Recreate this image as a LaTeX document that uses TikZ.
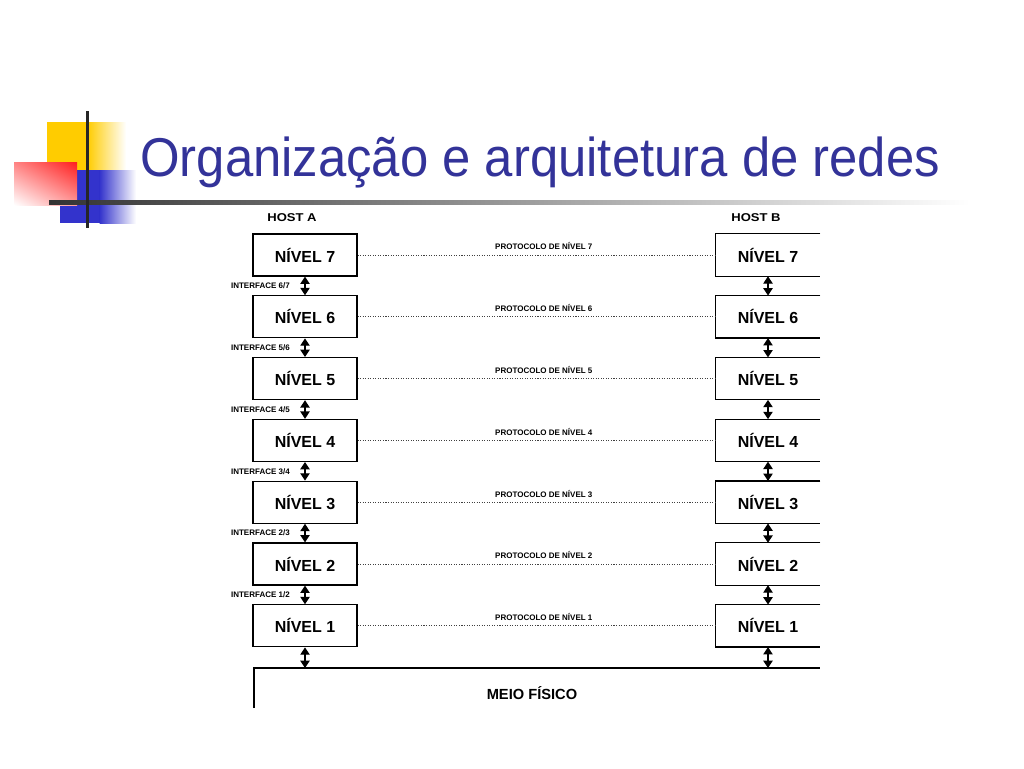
\documentclass[tikz,border=0pt]{standalone}
\usepackage{fontspec}
\usetikzlibrary{arrows.meta,shadings}
\newfontfamily\titlef[FakeStretch=0.93]{Liberation Sans}
\newfontfamily\diagf{Liberation Sans}
\newfontfamily\hostf[FakeStretch=1.15]{Liberation Sans}
\definecolor{titleblue}{RGB}{51,51,153}
\definecolor{decoyellow}{RGB}{255,204,0}
\definecolor{decoblue}{RGB}{51,51,204}
\definecolor{decored}{RGB}{255,30,30}
\tikzset{
  lvlbox/.style={draw, line width=0.9pt, minimum width=78pt, minimum height=31.5pt, inner sep=0pt,
    font=\diagf\bfseries\fontsize{12}{14}\selectfont},
  rlvlbox/.style={minimum width=78pt, minimum height=31.5pt, inner sep=0pt,
    font=\diagf\bfseries\fontsize{12}{14}\selectfont},
  dbl/.style={line width=0.9pt, {Triangle[width=7pt,length=5.5pt]}-{Triangle[width=7pt,length=5.5pt]}},
  proto/.style={line width=0.6pt, black!75, dash pattern=on 0.8pt off 1.1pt},
  protolbl/.style={font=\diagf\bfseries\fontsize{6}{7}\selectfont, text=black, inner sep=1pt},
  iflbl/.style={font=\diagf\bfseries\fontsize{6}{7}\selectfont, inner sep=0pt},
  hostlbl/.style={font=\hostf\bfseries\fontsize{8.5}{10}\selectfont, inner sep=0pt},
  edge/.style={line width=0.9pt}
}
\begin{document}
\begin{tikzpicture}[x=0.75pt,y=-0.75pt]
\useasboundingbox (0,0) rectangle (1024,768);
\fill[white] (0,0) rectangle (1024,768);
% decoration
\fill[decoyellow] (47,122) rectangle (88,170);
\shade[left color=decoyellow, right color=white] (87.5,122) rectangle (126,170);
\fill[decoblue] (60,170) rectangle (100,223);
\shade[left color=decoblue, right color=white] (99.5,170) rectangle (136,223);
\shade[upper right=decored, upper left=decored!55!white, lower right=decored!45!white, lower left=white] (14,162) rectangle (77,205);
\shade[left color=black!80, right color=white] (49,200) rectangle (970,204);
\fill[black!85] (85.5,111) rectangle (89,228);
% title
\node[anchor=base west, inner sep=0pt, text=titleblue, font=\titlef\fontsize{41}{45}\selectfont] (title) at (140,176) {Organização e arquitetura de redes};
% hosts
\node[hostlbl] (hosta) at (292,218) {HOST A};
\node[hostlbl] (hostb) at (756,218) {HOST B};
% levels
\foreach \k/\n in {0/7,1/6,2/5,3/4,4/3,5/2,6/1}{
  \node[lvlbox] (a\n) at (305,{255+61.8*\k}) {NÍVEL \n};
  \node[rlvlbox] (b\n) at (768,{255+61.8*\k}) {NÍVEL \n};
  \draw[edge] (b\n.north east) -- (b\n.north west) -- (b\n.south west) -- (b\n.south east);
  \draw[proto] (a\n.east) -- (b\n.west) node[protolbl, pos=0.52, above=2.5pt] {PROTOCOLO DE NÍVEL \n};
}
% interfaces
\foreach \u/\l in {7/6,6/5,5/4,4/3,3/2,2/1}{
  \draw[dbl] (a\u.south) -- (a\l.north) node[iflbl, midway, anchor=east, xshift=-11pt] {INTERFACE \l/\u};
  \draw[dbl] (b\u.south) -- (b\l.north);
}
% physical medium
\coordinate (mtl) at (254,668);
\coordinate (mtr) at (820,668);
\coordinate (mbl) at (254,708);
\draw[edge] (mbl) -- (mtl) -- (mtr);
\node[font=\diagf\bfseries\fontsize{11}{13}\selectfont, inner sep=0pt] (meio) at (532,693) {MEIO FÍSICO};
\draw[dbl] (a1.south) -- (a1.south |- mtl);
\draw[dbl] (b1.south) -- (b1.south |- mtl);
\end{tikzpicture}
\end{document}
